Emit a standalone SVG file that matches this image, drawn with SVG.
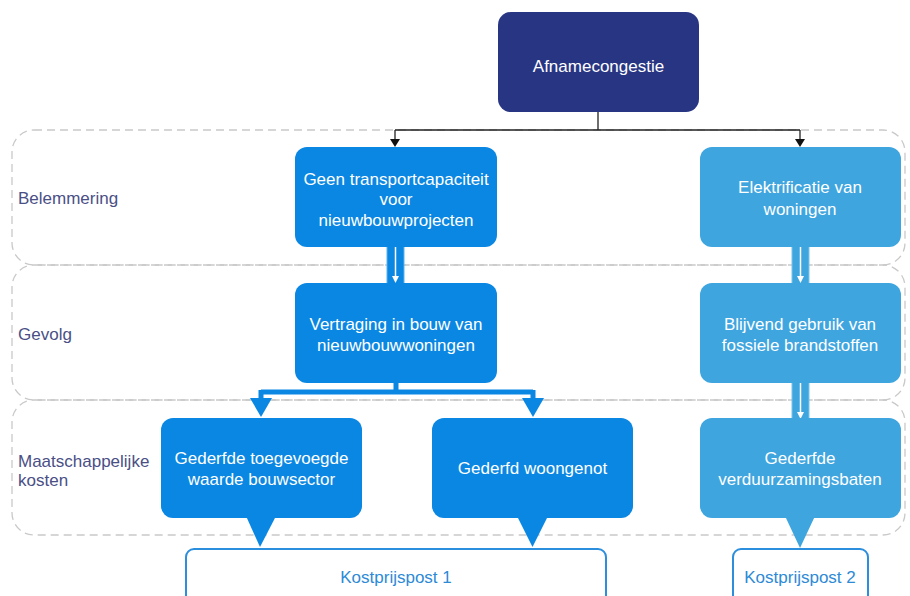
<svg xmlns="http://www.w3.org/2000/svg" width="910" height="596" viewBox="0 0 910 596">
<defs>
<style>
.lane{fill:none;stroke:#c9c9c9;stroke-width:1.3;stroke-dasharray:8 5}
.lbl{font-family:"Liberation Sans",Arial,sans-serif;font-size:17px;fill:#4a4f86}
.t{font-family:"Liberation Sans",Arial,sans-serif;font-size:17px;fill:#ffffff;text-anchor:middle}
.dark{fill:#283583}
.blue{fill:#0a87e3}
.light{fill:#3ea5df}
.out{fill:#ffffff;stroke:#2c8fdd;stroke-width:2}
.kt{font-family:"Liberation Sans",Arial,sans-serif;font-size:17px;fill:#2d8ad6;text-anchor:middle}
.thin{fill:none;stroke:#222;stroke-width:1.3}
.fat{fill:none;stroke:#0a87e3;stroke-width:5}
</style>
</defs>

<g id="lanes">
<rect class="lane" x="12" y="130" width="893" height="135" rx="22"/>
<rect class="lane" x="12" y="265" width="893" height="135" rx="22"/>
<rect class="lane" x="12" y="400" width="893" height="135" rx="22"/>
<text class="lbl" x="18" y="204">Belemmering</text>
<text class="lbl" x="18" y="340">Gevolg</text>
<text class="lbl" x="18" y="467">Maatschappelijke</text>
<text class="lbl" x="18" y="486">kosten</text>
</g>

<g id="connectors">
<path class="thin" d="M598,112 V130 M395,130 H800"/>
<path class="thin" d="M395,130 V140"/>
<path d="M390,139 L400,139 L395,147 Z" fill="#111"/>
<path class="thin" d="M800,130 V140"/>
<path d="M795,139 L805,139 L800,147 Z" fill="#111"/>

<rect x="387" y="246" width="17" height="38" fill="#0a87e3" stroke="#5bb3f0" stroke-width="1"/>
<path d="M395.5,247 V279" stroke="#fff" stroke-width="1.5"/>
<path d="M392,276 L399,276 L395.5,283 Z" fill="#fff"/>

<rect x="792" y="246" width="17" height="38" fill="#3ea5df" stroke="#7cc3ea" stroke-width="1"/>
<path d="M800.5,247 V279" stroke="#fff" stroke-width="1.5"/>
<path d="M797,276 L804,276 L800.5,283 Z" fill="#fff"/>

<rect x="792" y="382" width="17" height="38" fill="#3ea5df" stroke="#7cc3ea" stroke-width="1"/>
<path d="M800.5,383 V415" stroke="#fff" stroke-width="1.5"/>
<path d="M797,412 L804,412 L800.5,419 Z" fill="#fff"/>

<path class="fat" d="M396,382 V392 M261,392 H533 M261,390 V402 M533,390 V402"/>
<path d="M250,398 L272,398 L261,417 Z" fill="#0a87e3"/>
<path d="M522,398 L544,398 L533,417 Z" fill="#0a87e3"/>
</g>

<g id="n-afname">
<rect class="dark" x="498" y="12" width="201" height="100" rx="13"/>
<text class="t" x="598.5" y="72">Afnamecongestie</text>
</g>

<g id="n-geen">
<rect class="blue" x="295" y="147" width="202" height="100" rx="12"/>
<text class="t" x="396" y="185">Geen transportcapaciteit</text>
<text class="t" x="396" y="205">voor</text>
<text class="t" x="396" y="226">nieuwbouwprojecten</text>
</g>

<g id="n-elektr">
<rect class="light" x="700" y="147" width="201" height="100" rx="12"/>
<text class="t" x="800" y="193">Elektrificatie van</text>
<text class="t" x="800" y="215">woningen</text>
</g>

<g id="n-vertraging">
<rect class="blue" x="295" y="283" width="202" height="100" rx="12"/>
<text class="t" x="396" y="330">Vertraging in bouw van</text>
<text class="t" x="396" y="351">nieuwbouwwoningen</text>
</g>

<g id="n-blijvend">
<rect class="light" x="700" y="283" width="201" height="100" rx="12"/>
<text class="t" x="800" y="330">Blijvend gebruik van</text>
<text class="t" x="800" y="351">fossiele brandstoffen</text>
</g>

<g id="n-toegevoegde">
<rect class="blue" x="161" y="418" width="201" height="100" rx="12"/>
<path class="blue" d="M246,516 L276,516 L260,547 Z"/>
<text class="t" x="261.5" y="464">Gederfde toegevoegde</text>
<text class="t" x="261.5" y="485">waarde bouwsector</text>
</g>

<g id="n-woongenot">
<rect class="blue" x="432" y="418" width="201" height="100" rx="12"/>
<path class="blue" d="M517,516 L548,516 L532.5,547 Z"/>
<text class="t" x="532.5" y="474">Gederfd woongenot</text>
</g>

<g id="n-verduurzaming">
<rect class="light" x="700" y="418" width="201" height="100" rx="12"/>
<path class="light" d="M785,516 L815,516 L800,548 Z"/>
<text class="t" x="800" y="464">Gederfde</text>
<text class="t" x="800" y="485">verduurzamingsbaten</text>
</g>

<g id="n-kost1">
<rect class="out" x="186" y="549" width="420" height="60" rx="8"/>
<text class="kt" x="396" y="583">Kostprijspost 1</text>
</g>

<g id="n-kost2">
<rect class="out" x="733" y="549" width="135" height="60" rx="8"/>
<text class="kt" x="800" y="583">Kostprijspost 2</text>
</g>
</svg>
